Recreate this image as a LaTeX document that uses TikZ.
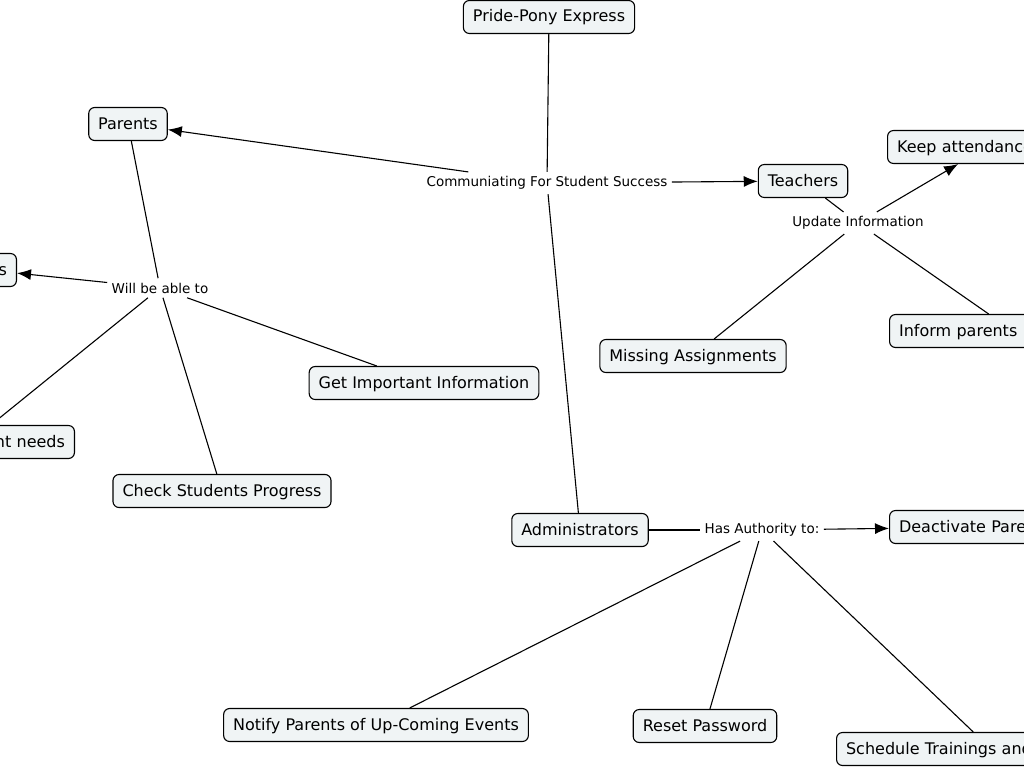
\documentclass[tikz,border=0pt]{standalone}
\usepackage{fontspec}
\setmainfont{DejaVu Sans}
\usetikzlibrary{arrows.meta}
\definecolor{boxfill}{RGB}{240,244,245}

\begin{document}
\begin{tikzpicture}[x=1pt,y=-1pt,line width=1.1pt,
  box/.style={rectangle,draw,rounded corners=6pt,fill=boxfill,inner xsep=9.5pt,inner ysep=0pt,text height=12pt,text depth=2pt,minimum height=33pt,font=\fontsize{16}{19}\selectfont},
  link/.style={inner sep=4pt,font=\fontsize{13.5}{16}\selectfont},
  arr/.style={-{Latex[length=14pt,width=11pt]}}]
\useasboundingbox (0,0) rectangle (1024,768);
\fill[white] (0,0) rectangle (1024,768);
\clip (0,0) rectangle (1024,768);

% concepts
\node (pony) [box] at (549,17) {Pride-Pony Express};
\node (parents) [box] at (128,124) {Parents};
\node (teachers) [box] at (803,181) {Teachers};
\node (admin) [box] at (580,530) {Administrators};
\node (keep) [box,anchor=west,text width=180pt,align=left] at (887,147) {Keep attendance};
\node (inform) [box,anchor=west,text width=228pt,align=left] at (889,331) {Inform parents};
\node (missing) [box] at (693,356) {Missing Assignments};
\node (lefts) [box,anchor=east,text width=40pt,align=right] at (17,270) {s};
\node (needs) [box,anchor=east,text width=190pt,align=right] at (75,442) {nt needs};
\node (info) [box] at (424,383) {Get Important Information};
\node (progress) [box] at (222,491) {Check Students Progress};
\node (deact) [box,anchor=west,text width=200pt,align=left] at (889,527) {Deactivate Pare};
\node (notify) [box] at (376,725) {Notify Parents of Up-Coming Events};
\node (reset) [box] at (705,726) {Reset Password};
\node (sched) [box,anchor=west,text width=290pt,align=left] at (836,749) {Schedule Trainings and};

% linking words
\node (comm) [link] at (547,183) {Communiating For Student Success};
\node (update) [link] at (858,223) {Update Information};
\node (able) [link] at (160,288) {Will be able to};
\node (auth) [link] at (762,530) {Has Authority to:};

% connectors
\draw (pony) -- (comm);
\draw (comm) -- (admin);
\draw[arr] (comm) -- (parents);
\draw[arr] (comm) -- (teachers);

\draw (parents) -- (able);
\draw[arr] (able) -- (lefts);
\draw (able) -- (needs);
\draw (able) -- (progress);
\draw (able) -- (info);

\draw (teachers) -- (update);
\draw[arr] (update) -- (keep);
\draw (update) -- (inform);
\draw (update) -- (missing);

\draw (admin) -- (auth);
\draw[arr] (auth) -- (deact);
\draw (auth) -- (notify);
\draw (auth) -- (reset);
\draw (auth) -- (sched);
\end{tikzpicture}
\end{document}
